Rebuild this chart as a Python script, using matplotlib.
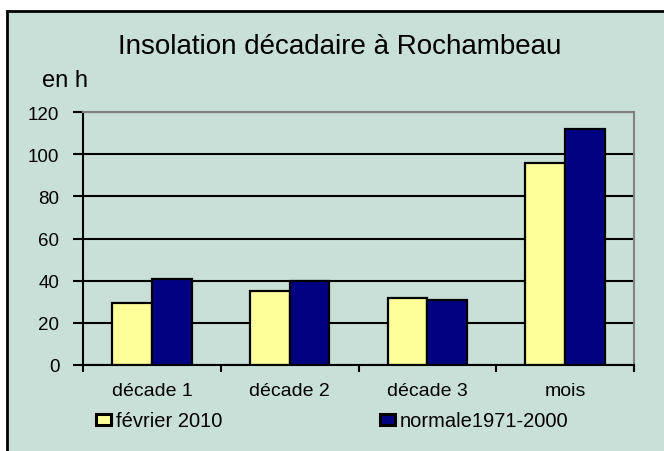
import matplotlib.pyplot as plt
import numpy as np
from matplotlib.patches import Rectangle

plt.rcParams['font.family'] = ['Liberation Sans', 'DejaVu Sans']

categories = ['décade 1', 'décade 2', 'décade 3', 'mois']
fevrier_2010 = [29.4, 35.0, 31.8, 95.8]
normale = [40.8, 39.7, 30.7, 111.8]
series_names = ['février 2010', 'normale1971-2000']
yticks = [0, 20, 40, 60, 80, 100, 120]

bg = '#c8e0d8'
W, H = 664, 452
fig = plt.figure(figsize=(6.64, 4.52), dpi=100)
fig.patch.set_facecolor('white')

# outer chart frame
fig.patches.append(Rectangle((7 / W, -0.1), 1.2, 1.1 - 12 / H, transform=fig.transFigure,
                             facecolor=bg, edgecolor='black', linewidth=2, zorder=-1))

ax = fig.add_axes([83 / W, 1 - 366 / H, (634 - 83) / W, (366 - 113) / H])
ax.set_facecolor(bg)

x = np.arange(len(categories))
bw = 0.288
b1 = ax.bar(x - bw / 2, fevrier_2010, bw, color='#ffff99', edgecolor='black', linewidth=1.6,
            label=series_names[0], zorder=3)
b2 = ax.bar(x + bw / 2, normale, bw, color='#000080', edgecolor='black', linewidth=1.6,
            label=series_names[1], zorder=3)

ax.set_xlim(-0.5, len(categories) - 0.5)
ax.set_ylim(0, 120)
ax.set_yticks(yticks)
ax.tick_params(axis='y', labelsize=13.5, length=7, width=1.5, pad=10, direction='out')
ax.set_xticks(np.arange(-0.5, len(categories), 1.0))
ax.set_xticklabels([])
ax.set_xticks(x, minor=True)
ax.set_xticklabels(categories, minor=True, fontsize=14)
ax.tick_params(axis='x', which='major', length=5, width=1.5, direction='out')
ax.tick_params(axis='x', which='minor', length=0, pad=12)

ax.grid(axis='y', color='black', linewidth=1.5, zorder=1)
for s in ['left', 'bottom']:
    ax.spines[s].set_color('black')
    ax.spines[s].set_linewidth(1.5)
for s in ['top', 'right']:
    ax.spines[s].set_color('#808080')
    ax.spines[s].set_linewidth(1.5)
ax.spines['bottom'].set_zorder(4)

fig.text(340 / W, 1 - 54 / H, 'Insolation décadaire à Rochambeau', ha='center', va='baseline',
         fontsize=20)
fig.text(42 / W, 1 - 87 / H, 'en h', ha='left', va='baseline', fontsize=17)

for handle, name, x0 in [(b1, series_names[0], 96), (b2, series_names[1], 380)]:
    leg = fig.legend(handles=[handle], labels=[name], loc='center left',
                     bbox_to_anchor=(x0 / W, 1 - 422 / H), frameon=False, borderpad=0,
                     borderaxespad=0, fontsize=14.5, handlelength=0.72, handleheight=0.5,
                     handletextpad=0.25)
    for p in leg.get_patches():
        p.set_linewidth(2.2)

fig.savefig('out.png', dpi=100, facecolor=fig.get_facecolor())
